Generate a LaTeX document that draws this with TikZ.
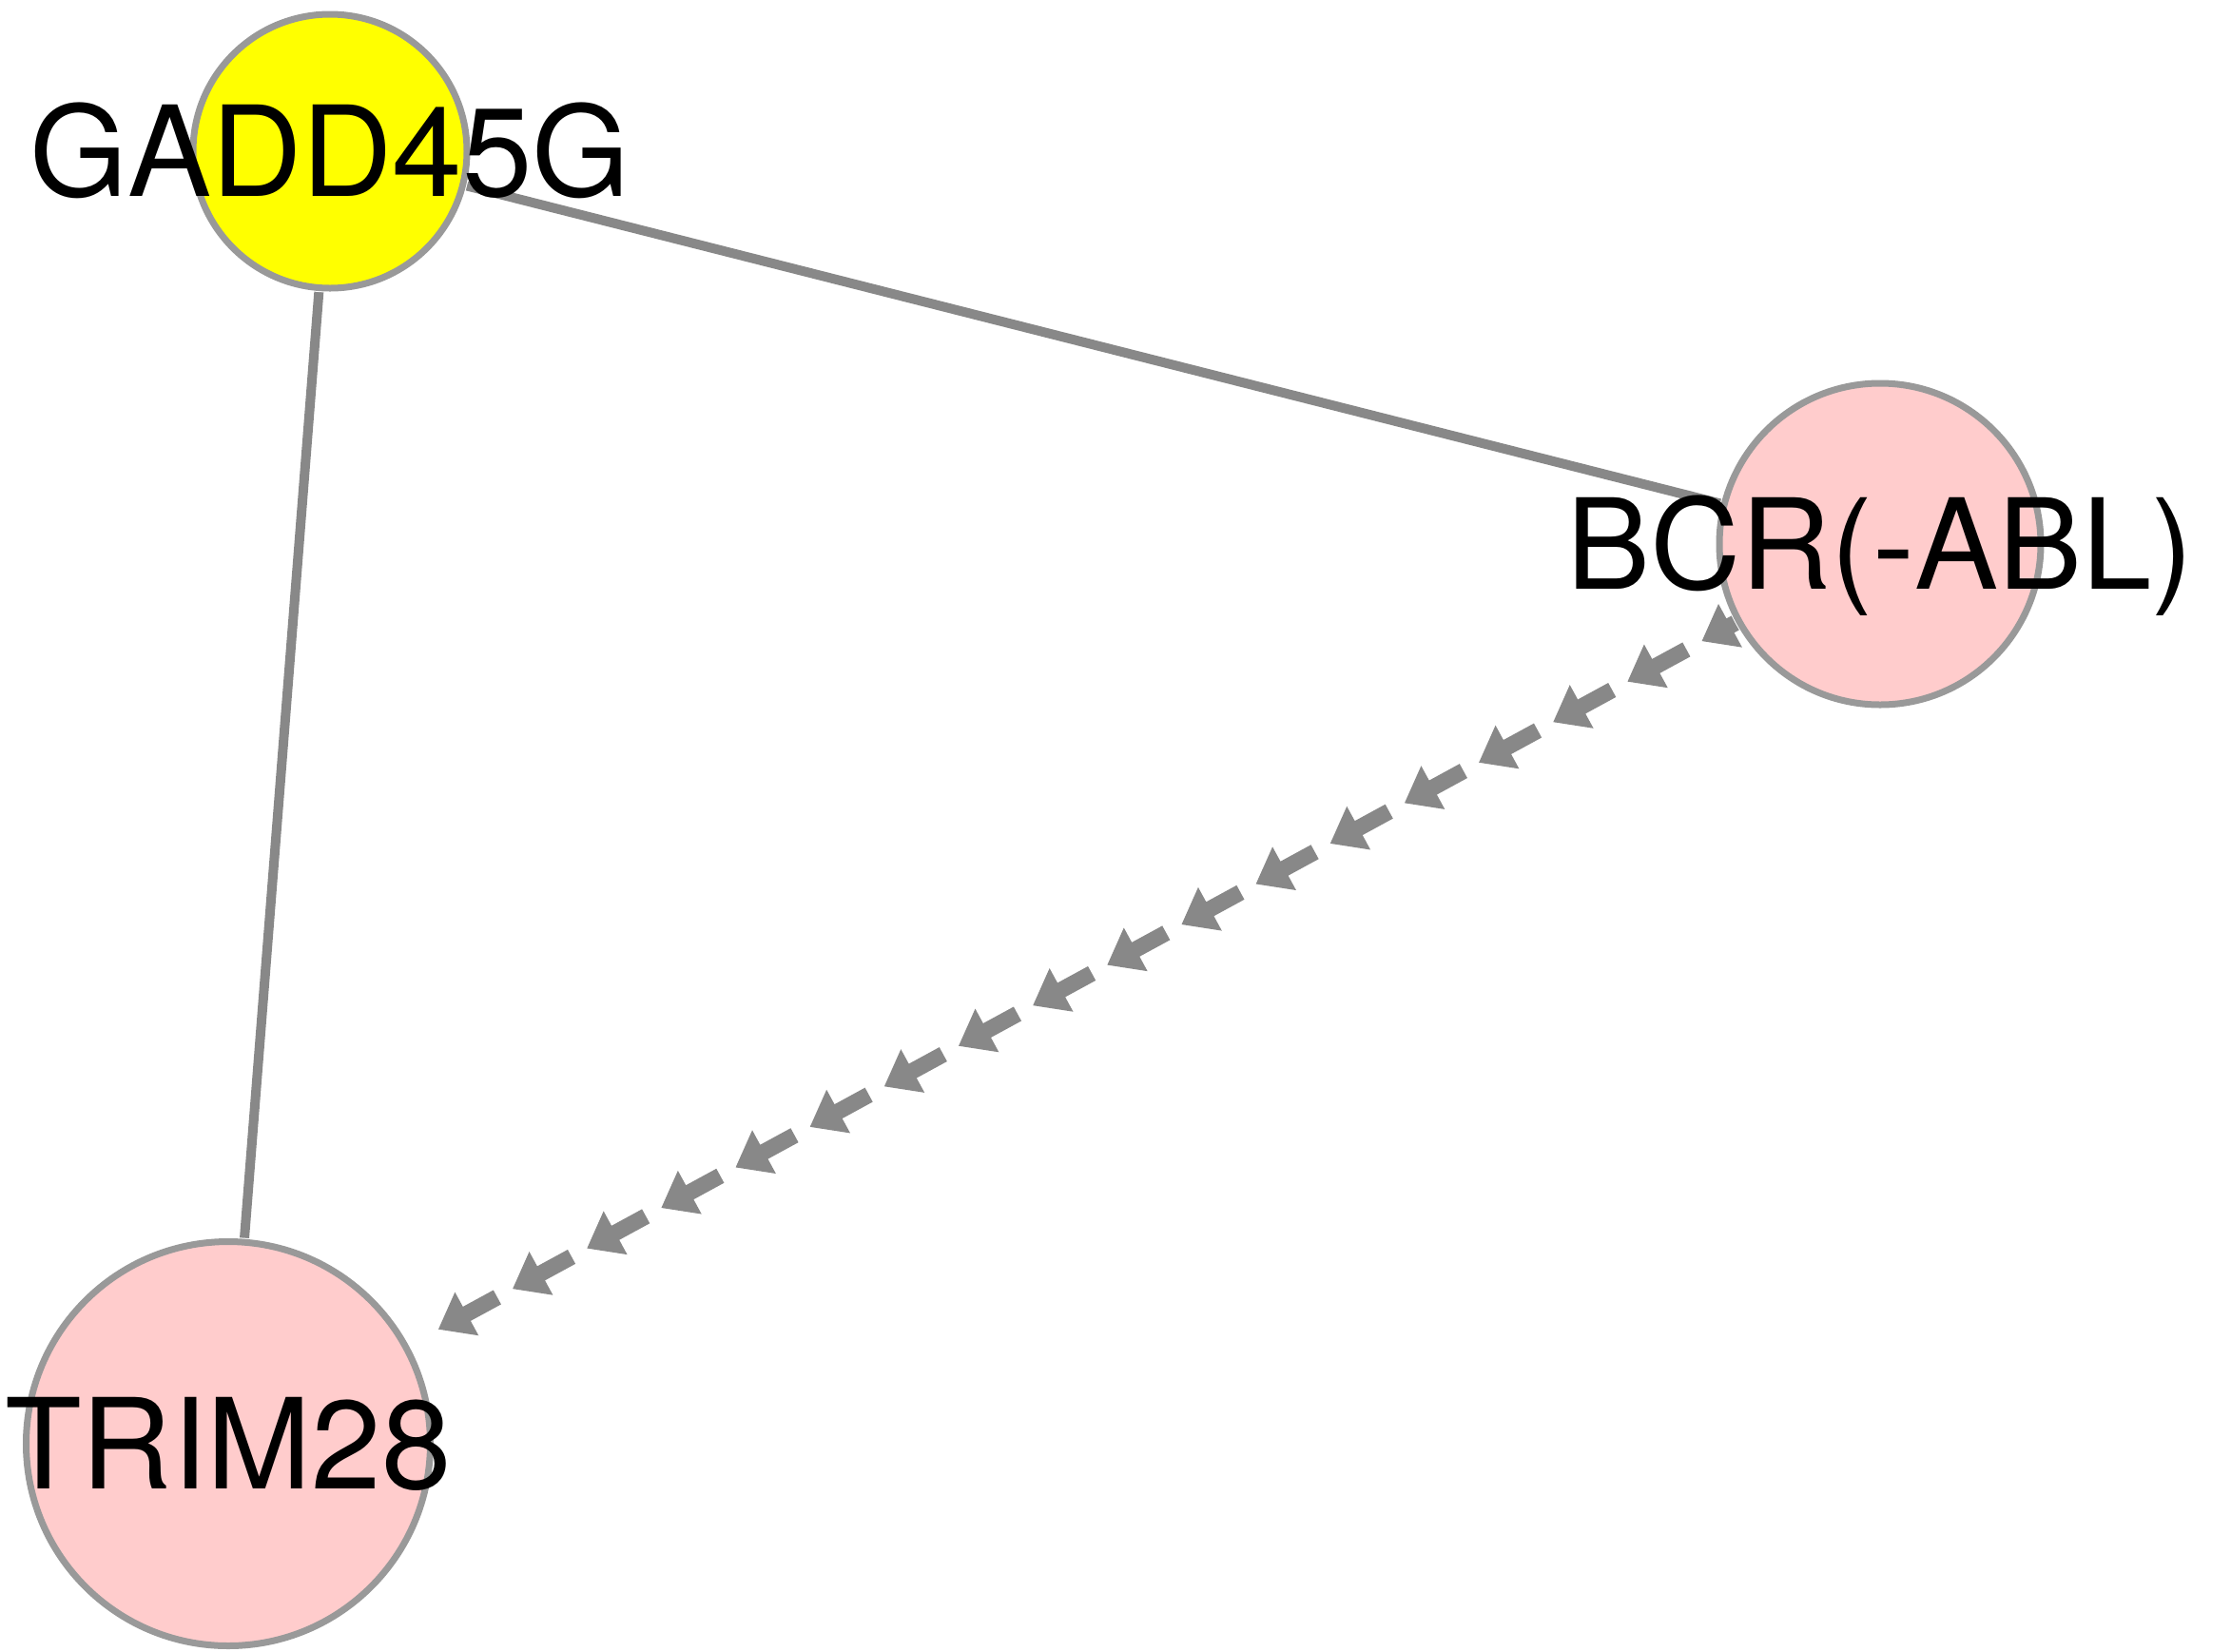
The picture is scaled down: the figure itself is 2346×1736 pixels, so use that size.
\documentclass[tikz,border=0pt]{standalone}
\usepackage{fontspec}
\setmainfont{TeX Gyre Heros}
\usetikzlibrary{decorations.markings}
\pgfdeclarelayer{background}
\pgfsetlayers{background,main}
\definecolor{edgegray}{HTML}{888888}
\definecolor{bordergray}{HTML}{999999}
\definecolor{nodepink}{HTML}{FFCCCC}
\definecolor{nodeyellow}{HTML}{FFFF00}
\begin{document}
\begin{tikzpicture}[x=0.5pt,y=-0.5pt,
  gene/.style={circle, draw=bordergray, line width=3.5pt, inner sep=0pt, outer sep=0pt,
    preaction={draw=white, line width=4.5pt}},
  lab/.style={font=\fontsize{66}{70}\selectfont, text height=47.4pt, text depth=0pt, inner sep=0pt},
  edge/.style={draw=edgegray, line width=5pt, line cap=round},
  arrowchain/.style={decoration={markings,
    mark=between positions 106.7pt and 864pt step 44.5pt with {
      \fill[edgegray] (0pt,0pt) -- (-17pt,13pt) -- (-17pt,4.25pt) -- (-35.25pt,4.25pt)
        -- (-35.25pt,-4.25pt) -- (-17pt,-4.25pt) -- (-17pt,-13pt) -- cycle;}},
    decorate}
]
\useasboundingbox (0,0) rectangle (2346,1736);
\node[gene, fill=nodeyellow, minimum size=144pt, label={[lab]center:GADD45G}] (gadd) at (347,159) {};
\node[gene, fill=nodepink, minimum size=169pt, label={[lab]center:BCR(-ABL)}] (bcr) at (1977,572) {};
\node[gene, fill=nodepink, minimum size=212.5pt, label={[lab]center:TRIM28}] (trim) at (240,1518) {};
\begin{pgfonlayer}{background}
\draw[edge] (gadd) -- (bcr);
\draw[edge] (gadd) -- (trim);
\path[arrowchain] (bcr.center) -- (trim.center);
\end{pgfonlayer}
\end{tikzpicture}
\end{document}
